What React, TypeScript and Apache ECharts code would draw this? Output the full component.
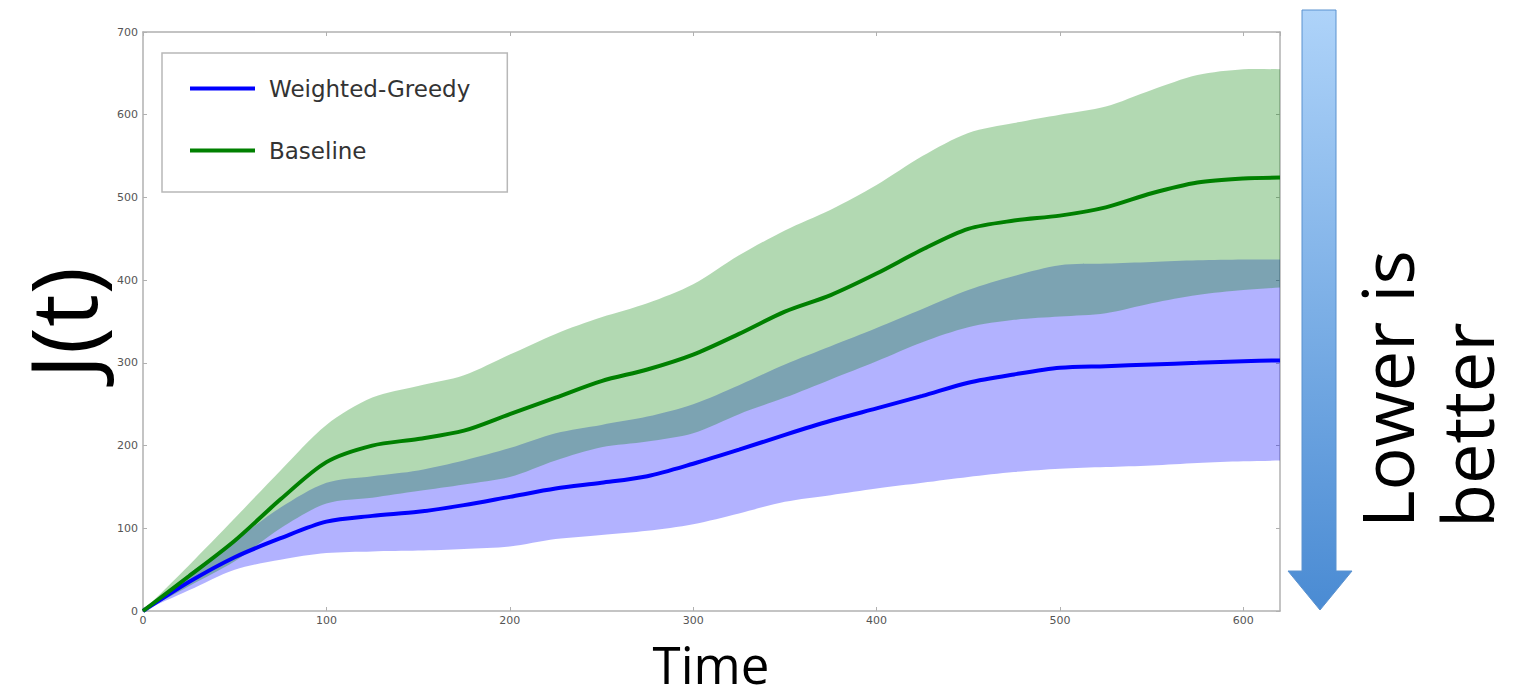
import React, { useEffect, useRef } from "react";
import * as echarts from "echarts";

const times = [0, 25, 50, 75, 100, 125, 150, 175, 200, 225, 250, 275, 300, 325, 350, 375, 400, 425, 450, 475, 500, 525, 550, 575, 600, 620];

const greedyMean = [0, 35, 65, 88, 108, 115, 120, 128, 138, 148, 155, 163, 178, 195, 213, 230, 245, 260, 276, 286, 294, 296, 298, 300, 302, 303];
const greedyUpper = [0, 45, 85, 125, 155, 163, 170, 182, 197, 215, 225, 235, 250, 273, 298, 320, 342, 365, 388, 405, 418, 420, 422, 424, 425, 425];
const greedyLower = [0, 25, 50, 62, 70, 72, 73, 75, 78, 87, 92, 97, 105, 118, 132, 140, 148, 155, 162, 168, 172, 174, 176, 179, 181, 182];

const baselineMean = [0, 42, 85, 135, 180, 200, 208, 218, 238, 258, 278, 292, 310, 335, 362, 382, 408, 437, 462, 472, 478, 488, 505, 518, 523, 524];
const baselineUpper = [0, 55, 112, 170, 225, 258, 272, 285, 310, 335, 355, 372, 395, 430, 460, 485, 515, 550, 578, 590, 600, 610, 630, 648, 655, 655];
const baselineLower = [0, 30, 60, 100, 130, 137, 145, 153, 162, 182, 198, 205, 215, 238, 258, 280, 302, 325, 343, 352, 356, 360, 372, 382, 388, 391];

const xTicks = [0, 100, 200, 300, 400, 500, 600];
const yTicks = [0, 100, 200, 300, 400, 500, 600, 700];

const SMOOTH = 0.3;

export default function App() {
  const ref = useRef<HTMLDivElement>(null);

  useEffect(() => {
    if (!ref.current) return;
    const chart = echarts.init(ref.current, undefined, { renderer: "svg" });

    const pairs = (ys: number[]) => times.map((t, i) => [t, ys[i]]);

    const bandSeries = (name: string, lower: number[], upper: number[], fill: string, z: number) => ({
      name,
      type: "custom",
      silent: true,
      z,
      data: times.map((t, i) => [t, lower[i], upper[i]]),
      encode: { x: 0, y: [1, 2] },
      renderItem: (params: any, api: any) => {
        if (params.dataIndex !== 0) return null;
        const top = times.map((t, i) => api.coord([t, upper[i]]));
        const bottom = times.map((t, i) => api.coord([t, lower[i]])).reverse();
        // duplicate the end points so the closed smooth outline keeps sharp corners
        const pts = [top[0], ...top, top[top.length - 1], bottom[0], ...bottom, bottom[bottom.length - 1]];
        const cs = params.coordSys;
        return {
          type: "polygon",
          shape: { points: pts, smooth: SMOOTH },
          style: { fill, stroke: "none" },
          clipPath: { type: "rect", shape: { x: cs.x, y: cs.y, width: cs.width, height: cs.height } },
        };
      },
    });

    const axisColor = "#b0b0b0";
    const tickFont = { fontFamily: "DejaVu Sans", fontSize: 11, color: "#555" };

    const xBase = {
      type: "value",
      min: 0,
      max: 620,
      interval: 100,
      splitLine: { show: false },
      axisLine: { show: true, onZero: false, lineStyle: { color: axisColor, width: 1.5 } },
      axisTick: { show: true, inside: true, length: 4, lineStyle: { color: axisColor } },
    };
    const yBase = {
      type: "value",
      min: 0,
      max: 700,
      interval: 100,
      splitLine: { show: false },
      axisLine: { show: true, onZero: false, lineStyle: { color: axisColor, width: 1.5 } },
      axisTick: { show: true, inside: true, length: 4, lineStyle: { color: axisColor } },
    };

    chart.setOption({
      animation: false,
      backgroundColor: "#ffffff",
      grid: { left: 143, right: 239, top: 32, bottom: 88, containLabel: false },
      xAxis: [
        {
          ...xBase,
          position: "bottom",
          axisLabel: {
            ...tickFont,
            margin: 4,
            showMaxLabel: false,
            formatter: (v: number) => (xTicks.includes(v) ? String(v) : ""),
          },
        },
        { ...xBase, position: "top", axisLabel: { show: false } },
      ],
      yAxis: [
        {
          ...yBase,
          position: "left",
          axisLabel: {
            ...tickFont,
            margin: 5,
            formatter: (v: number) => (yTicks.includes(v) ? String(v) : ""),
          },
        },
        { ...yBase, position: "right", axisLabel: { show: false } },
      ],
      legend: {
        data: ["Weighted-Greedy", "Baseline"],
        orient: "vertical",
        left: 162,
        top: 53,
        padding: [24, 37, 30, 28],
        itemWidth: 65,
        itemHeight: 4,
        itemGap: 39,
        icon: "rect",
        borderColor: "#b8b8b8",
        borderWidth: 1.5,
        backgroundColor: "#ffffff",
        selectedMode: false,
        textStyle: {
          fontFamily: "DejaVu Sans",
          fontSize: 23,
          color: "#333",
          padding: [0, 0, 0, 9],
        },
      },
      series: [
        bandSeries("Weighted-Greedy band", greedyLower, greedyUpper, "rgba(0,0,255,0.3)", 1),
        bandSeries("Baseline band", baselineLower, baselineUpper, "rgba(0,128,0,0.3)", 2),
        {
          name: "Weighted-Greedy",
          type: "line",
          data: pairs(greedyMean),
          symbol: "none",
          smooth: SMOOTH,
          color: "#0000ff",
          lineStyle: { color: "#0000ff", width: 4 },
          z: 5,
        },
        {
          name: "Baseline",
          type: "line",
          data: pairs(baselineMean),
          symbol: "none",
          smooth: SMOOTH,
          color: "#008000",
          lineStyle: { color: "#008000", width: 4 },
          z: 5,
        },
      ],
      graphic: [
        {
          type: "text",
          x: 61,
          y: 323,
          rotation: Math.PI / 2,
          style: {
            text: "J(t)",
            fontFamily: "Open Sans",
            fontSize: 92,
            lineHeight: 92,
            fill: "#000",
            align: "center",
            verticalAlign: "middle",
          },
        },
        {
          type: "text",
          x: 711,
          y: 664,
          style: {
            text: "Time",
            fontFamily: "Open Sans",
            fontSize: 51,
            lineHeight: 51,
            fill: "#000",
            align: "center",
            verticalAlign: "middle",
          },
        },
        {
          type: "polygon",
          shape: {
            points: [
              [1302, 10],
              [1336, 10],
              [1336, 571],
              [1352, 571],
              [1320, 610],
              [1288, 571],
              [1302, 571],
            ],
          },
          style: {
            fill: {
              type: "linear",
              x: 0,
              y: 0,
              x2: 0,
              y2: 1,
              colorStops: [
                { offset: 0, color: "#aed3f9" },
                { offset: 1, color: "#4a8bd3" },
              ],
            },
            stroke: "#5b92cf",
            lineWidth: 1,
          },
        },
        {
          type: "text",
          x: 1386,
          y: 528,
          rotation: Math.PI / 2,
          style: {
            text: "Lower is",
            fontFamily: "Open Sans",
            fontSize: 72,
            fill: "#000",
            align: "left",
            verticalAlign: "middle",
          },
        },
        {
          type: "text",
          x: 1466,
          y: 528,
          rotation: Math.PI / 2,
          style: {
            text: "better",
            fontFamily: "Open Sans",
            fontSize: 72,
            fill: "#000",
            align: "left",
            verticalAlign: "middle",
          },
        },
      ],
    });

    return () => chart.dispose();
  }, []);

  return (
    <div
      ref={ref}
      style={{ position: "fixed", left: 0, top: 0, width: 1519, height: 699, background: "#fff" }}
    />
  );
}
